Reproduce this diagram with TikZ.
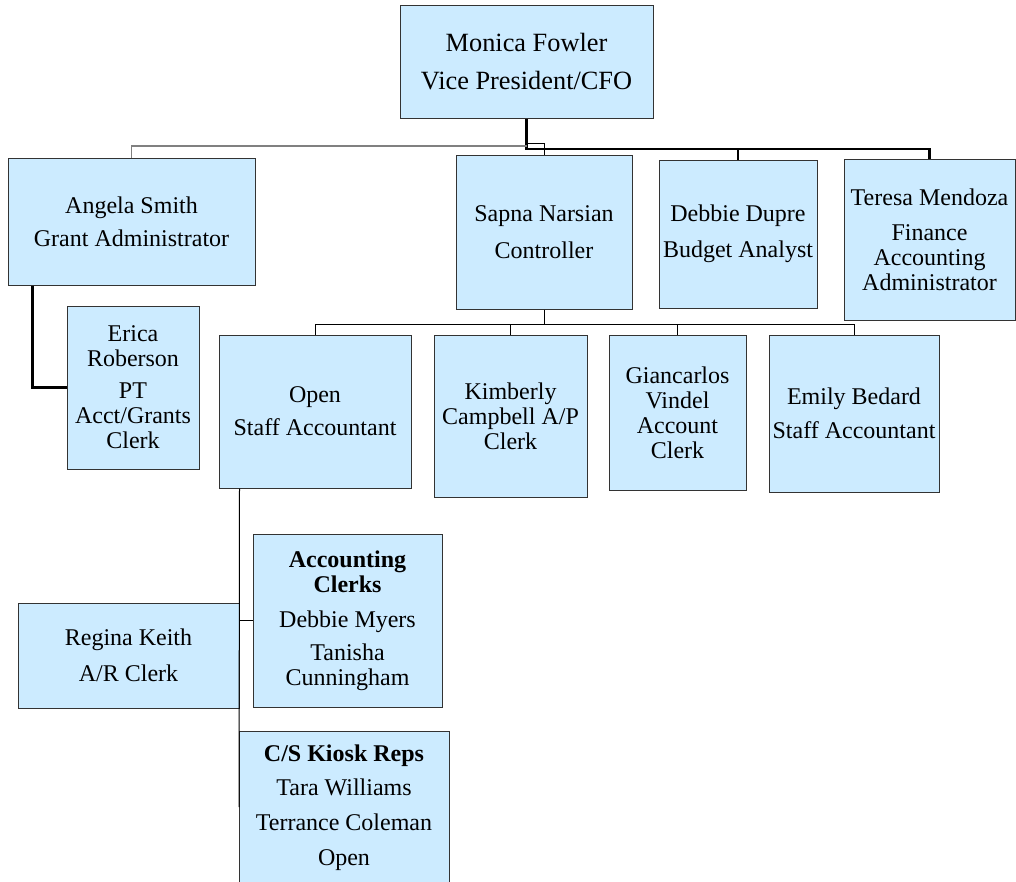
\documentclass[tikz,border=0pt]{standalone}
\usepackage{fontspec}
\setmainfont{Liberation Serif}
\usepackage{xcolor}

\definecolor{boxblue}{HTML}{CCEBFF}
\definecolor{boxline}{HTML}{333333}

\tikzset{
  person/.style={draw=boxline, fill=boxblue, line width=0.75pt, align=center,
    inner sep=0pt, font=\fontsize{18}{18.75}\selectfont},
  boxsize/.style 2 args={minimum width=#1*0.75pt, minimum height=#2*0.75pt},
  link/.style={line width=0.75pt, black},
  biglink/.style={line width=1.6pt, black},
  greylink/.style={line width=1pt, gray},
}

\begin{document}
\begin{tikzpicture}[x=0.75pt,y=-0.75pt]
\useasboundingbox (0,0) rectangle (1016,881);
%% boxes
\node[person, boxsize={253}{112}, font=\fontsize{19.75}{28.5}\selectfont] (monica) at (526.5,62) {Monica Fowler\\Vice President/CFO};
\node[person, boxsize={247}{127}] (angela) at (131.5,221.5) {Angela Smith\\[6pt]Grant Administrator};
\node[person, boxsize={176}{154}] (sapna) at (544,232) {Sapna Narsian\\[9pt]Controller};
\node[person, boxsize={158}{148}] (debbie) at (738,234) {Debbie Dupre\\[8.25pt]Budget Analyst};
\node[person, boxsize={171}{161}] (teresa) at (929.5,239.5) {Teresa Mendoza\\[7.5pt]Finance\\Accounting\\Administrator};
\node[person, boxsize={132}{163}] (erica) at (133,387.5) {Erica\\Roberson\\[5.25pt]PT\\Acct/Grants\\Clerk};
\node[person, boxsize={192}{153}] (open) at (315,411.5) {Open\\[6pt]Staff Accountant};
\node[person, boxsize={153}{162}] (kimberly) at (510.5,416) {Kimberly\\Campbell A/P\\Clerk};
\node[person, boxsize={137}{155}] (giancarlos) at (677.5,412.5) {Giancarlos\\Vindel\\Account\\Clerk};
\node[person, boxsize={170}{157}] (emily) at (854,413.5) {Emily Bedard\\[6.75pt]Staff Accountant};
\node[person, boxsize={189}{173}] (accounting) at (347.5,620.5) {\textbf{Accounting}\\\textbf{Clerks}\\[7.5pt]Debbie Myers\\[6pt]Tanisha\\Cunningham};
\node[person, boxsize={221}{105}] (regina) at (128.5,655.5) {Regina Keith\\[8.25pt]A/R Clerk};
\node[person, boxsize={210}{153}] (kiosk) at (344,807.5) {\textbf{C/S Kiosk Reps}\\[6.75pt]Tara Williams\\[7.5pt]Terrance Coleman\\[7.5pt]Open};
%% top level links
\coordinate (bus) at (526.5,149);
\coordinate (greybus) at (526.5,146);
\coordinate (sapnabus) at (526.5,143);
\draw[biglink] (monica.south) -- (bus) -| (teresa.north);
\draw[biglink] (bus -| debbie.north) -- (debbie.north);
\draw[greylink] (greybus) -| (angela.north);
\draw[link] (sapnabus) -| (sapna.north);
\draw[biglink] ([xshift=18.75pt]angela.south west) |- (erica.west);
%% controller links
\coordinate (sbus) at (544,324);
\draw[link] (sapna.south) -- (sbus);
\draw[link] (open.north |- sbus) -- (emily.north |- sbus);
\foreach \n in {open,kimberly,giancarlos,emily}
  \draw[link] (\n.north |- sbus) -- (\n.north);
%% staff accountant links
\coordinate (ostem) at (239,807);
\draw[link] (regina.east |- open.south) -- (ostem);
\draw[link] (regina.east |- accounting.west) -- (accounting.west);
\end{tikzpicture}
\end{document}
